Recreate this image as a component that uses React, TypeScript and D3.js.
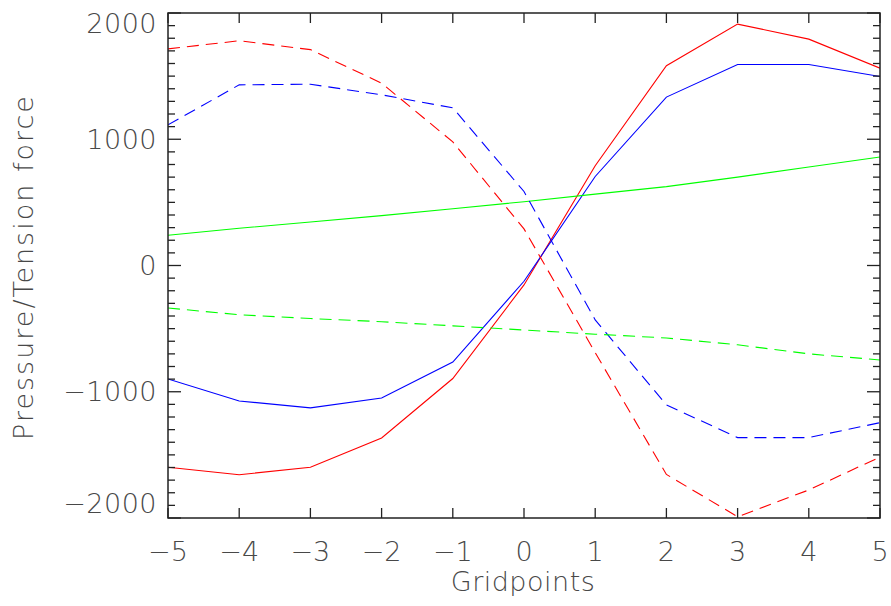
import * as d3 from 'd3'

const gridpoints = [-5, -4, -3, -2, -1, 0, 1, 2, 3, 4, 5]

// solid = pressure/tension at one side, dashed = the other
const redSolid = [-1598, -1657, -1598, -1366, -895, -154, 790, 1582, 1912, 1793, 1563]
const blueSolid = [-899, -1073, -1128, -1049, -765, -125, 705, 1334, 1592, 1592, 1497]
const greenSolid = [240, 295, 345, 395, 450, 505, 565, 625, 700, 780, 860]
const redDashed = [1716, 1780, 1710, 1444, 979, 290, -690, -1655, -1990, -1778, -1517]
const blueDashed = [1114, 1431, 1436, 1352, 1249, 586, -431, -1104, -1363, -1363, -1245]
const greenDashed = [-337, -390, -420, -445, -478, -511, -544, -574, -628, -700, -748]

const yMajorTicks = [-2000, -1000, 0, 1000, 2000]

const series = [
  { key: 'redSolid', values: redSolid, color: '#ff0000', dash: null },
  { key: 'blueSolid', values: blueSolid, color: '#0000ff', dash: null },
  { key: 'greenSolid', values: greenSolid, color: '#00ff00', dash: null },
  { key: 'redDashed', values: redDashed, color: '#ff0000', dash: '12,7' },
  { key: 'blueDashed', values: blueDashed, color: '#0000ff', dash: '12,7' },
  { key: 'greenDashed', values: greenDashed, color: '#00ff00', dash: '12,7' },
]

const WIDTH = 891
const HEIGHT = 606
const FONT = '"DejaVu Sans", sans-serif'
const TEXT = '#484848'

export default function App() {
  const left = 168
  const right = 880
  const top = 13
  const bottom = 518

  const x = d3.scaleLinear().domain([-5, 5]).range([left, right])
  const y = d3.scaleLinear().domain([-2000, 2000]).range([bottom, top])

  const yMinor = d3.range(-2000, 2001, 100).filter(v => v % 1000 !== 0)

  const line = (vals: number[]) =>
    d3.line<number>()
      .x((_, i) => x(gridpoints[i]))
      .y(d => y(d))(vals) || ''

  return (
    <svg
      width={WIDTH}
      height={HEIGHT}
      style={{ position: 'absolute', left: 0, top: 0, background: '#fff' }}
    >
      <defs>
        <clipPath id="plot">
          <rect x={left} y={top - 1} width={right - left} height={bottom - top + 2} />
        </clipPath>
      </defs>

      {/* data lines */}
      <g clipPath="url(#plot)" fill="none">
        {series.map(s => (
          <path
            key={s.key}
            d={line(s.values)}
            stroke={s.color}
            strokeWidth={1.1}
            strokeDasharray={s.dash ?? undefined}
          />
        ))}
      </g>

      {/* frame */}
      <rect x={left} y={top} width={right - left} height={bottom - top}
        fill="none" stroke="#222" strokeWidth={1.5} />

      {/* ticks */}
      <g stroke="#222" strokeWidth={1.3}>
        {gridpoints.map(g => (
          <g key={g}>
            <line x1={x(g)} x2={x(g)} y1={bottom} y2={bottom - 10} />
            <line x1={x(g)} x2={x(g)} y1={top} y2={top + 10} />
          </g>
        ))}
        {yMajorTicks.map(v => (
          <g key={v}>
            <line x1={left} x2={left + 13} y1={y(v)} y2={y(v)} />
            <line x1={right} x2={right - 13} y1={y(v)} y2={y(v)} />
          </g>
        ))}
        {yMinor.map(v => (
          <g key={v}>
            <line x1={left} x2={left + 7} y1={y(v)} y2={y(v)} />
            <line x1={right} x2={right - 7} y1={y(v)} y2={y(v)} />
          </g>
        ))}
      </g>

      {/* tick labels */}
      <g fontFamily={FONT} fontSize={27} fontWeight={200} fill={TEXT}>
        {gridpoints.map(g => (
          <text key={g} x={x(g)} y={551} textAnchor="middle" dominantBaseline="central">
            {g < 0 ? `\u2212${Math.abs(g)}` : g}
          </text>
        ))}
        {yMajorTicks.map(v => (
          <text
            key={v}
            x={157}
            y={Math.min(Math.max(y(v), 23), 503)}
            textAnchor="end"
            dominantBaseline="central"
            letterSpacing={0.5}
          >
            {v < 0 ? `\u2212${Math.abs(v)}` : v}
          </text>
        ))}
      </g>

      {/* axis titles */}
      <text x={523} y={591} textAnchor="middle" fontFamily={FONT} fontSize={27}
        fontWeight={200} fill={TEXT} letterSpacing={0.5}>
        Gridpoints
      </text>
      <text transform="translate(33,267) rotate(-90)" textAnchor="middle"
        fontFamily={FONT} fontSize={27} fontWeight={200} fill={TEXT} letterSpacing={2}>
        Pressure/Tension force
      </text>
    </svg>
  )
}
